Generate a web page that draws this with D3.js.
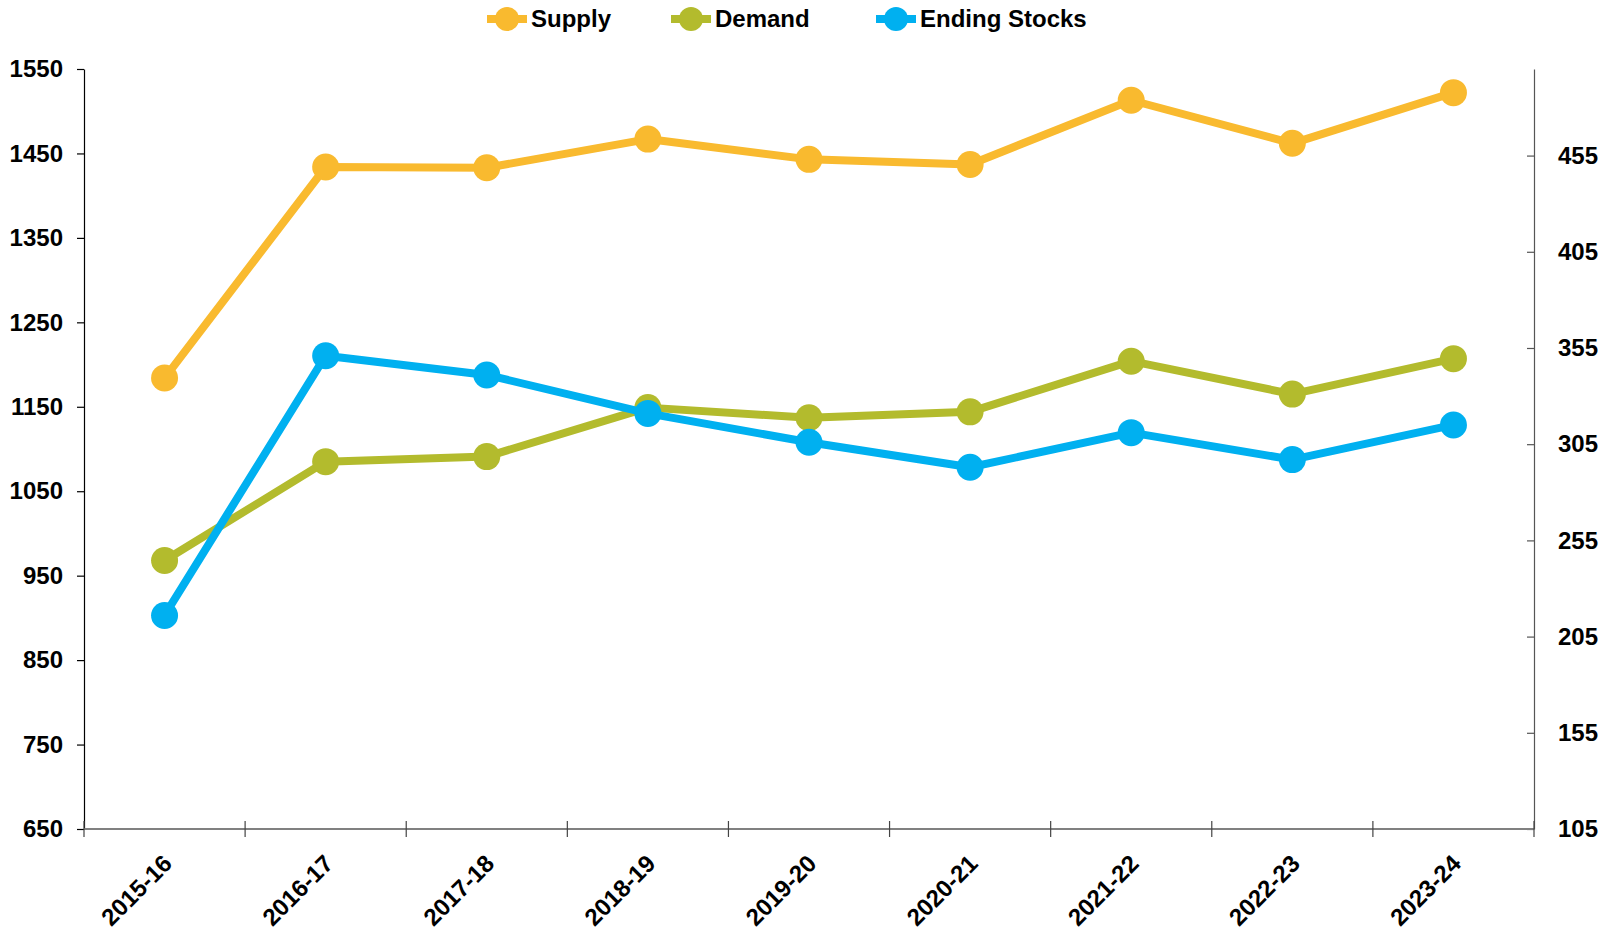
<!DOCTYPE html>
<html>
<head>
<meta charset="utf-8">
<script src="https://cdn.jsdelivr.net/npm/d3@7/dist/d3.min.js"></script>
<style>
  html, body { margin: 0; padding: 0; background: #fff; }
  svg { display: block; font-family: "Liberation Sans", Arial, sans-serif; font-weight: bold; }
</style>
</head>
<body>
<svg id="chart" width="1623" height="933"></svg>
<script>
// ---- data ----
const categories = ["2015-16","2016-17","2017-18","2018-19","2019-20","2020-21","2021-22","2022-23","2023-24"];
const supply = [1184, 1434, 1433, 1467, 1443, 1437, 1513, 1462, 1522];
const demand = [968, 1085, 1091, 1149, 1137, 1144, 1204, 1165, 1207];
const endingStocks = [216, 351, 341, 321, 306, 293, 311, 297, 315];
const leftTicks = [650, 750, 850, 950, 1050, 1150, 1250, 1350, 1450, 1550];
const rightTicks = [105, 155, 205, 255, 305, 355, 405, 455];
const seriesNames = ["Supply", "Demand", "Ending Stocks"];
const seriesColors = ["#F9BA2F", "#B3BB2D", "#00B0F0"];

(function () {
// ---- layout ----
const svg = d3.select("#chart");
const pLeft = 84, pRight = 1534, pTop = 69, pBottom = 829;

const x = d3.scaleBand().domain(categories).range([pLeft, pRight]).padding(0);
const yL = d3.scaleLinear().domain([650, 1550]).range([pBottom, pTop]);
const yR = d3.scaleLinear().domain([105, 500]).range([pBottom, pTop]);
const fmt = d3.format("d");

// Left axis
const gL = svg.append("g").attr("transform", `translate(${pLeft},0)`)
  .call(d3.axisLeft(yL).tickValues(leftTicks).tickFormat(fmt).tickSize(7).tickPadding(14).tickSizeOuter(0));
gL.select(".domain").attr("stroke", "#000").attr("stroke-width", 1.2);
gL.selectAll(".tick line").attr("stroke", "#000").attr("stroke-width", 1.2);
gL.selectAll(".tick text").attr("font-size", 24).attr("font-weight", "bold")
  .attr("font-family", "Liberation Sans, Arial, sans-serif").attr("fill", "#000");

// Right axis
const gR = svg.append("g").attr("transform", `translate(${pRight},0)`)
  .call(d3.axisRight(yR).tickValues(rightTicks).tickFormat(fmt).tickSize(-7).tickPadding(24).tickSizeOuter(0));
gR.select(".domain").attr("stroke", "#555").attr("stroke-width", 1.2);
gR.selectAll(".tick line").attr("stroke", "#555").attr("stroke-width", 1.2);
gR.selectAll(".tick text").attr("font-size", 24).attr("font-weight", "bold")
  .attr("font-family", "Liberation Sans, Arial, sans-serif").attr("fill", "#000");

// X axis
const gX = svg.append("g").attr("transform", `translate(0,${pBottom})`);
gX.append("line").attr("x1", pLeft).attr("x2", pRight).attr("y1", 0).attr("y2", 0)
  .attr("stroke", "#808080").attr("stroke-width", 2.2);
const xTickPos = categories.map(c => x(c)).concat([pRight]);
gX.selectAll("line.xt").data(xTickPos).enter().append("line").attr("class", "xt")
  .attr("x1", d => d).attr("x2", d => d).attr("y1", -8).attr("y2", 8)
  .attr("stroke", "#444").attr("stroke-width", 1.2);
gX.selectAll("text.xl").data(categories).enter().append("text").attr("class", "xl")
  .attr("transform", d => `translate(${x(d) + x.bandwidth() / 2 + 9},36) rotate(-45)`)
  .attr("text-anchor", "end")
  .attr("font-size", 24).attr("font-weight", "bold").attr("fill", "#000")
  .text(d => d);

// Series
const allSeries = [
  { name: seriesNames[0], values: supply, y: yL, color: seriesColors[0] },
  { name: seriesNames[1], values: demand, y: yL, color: seriesColors[1] },
  { name: seriesNames[2], values: endingStocks, y: yR, color: seriesColors[2] }
];
const cx = c => x(c) + x.bandwidth() / 2;

allSeries.forEach(s => {
  const line = d3.line().x((d, i) => cx(categories[i])).y(d => s.y(d));
  svg.append("path").datum(s.values).attr("d", line)
    .attr("fill", "none").attr("stroke", s.color).attr("stroke-width", 8)
    .attr("stroke-linejoin", "round");
  svg.selectAll(null).data(s.values).enter().append("circle")
    .attr("cx", (d, i) => cx(categories[i])).attr("cy", d => s.y(d))
    .attr("r", 13.5).attr("fill", s.color);
});

// Legend
const legendX = [507, 691, 896];
const legend = svg.append("g");
allSeries.forEach((s, i) => {
  const g = legend.append("g").attr("transform", `translate(${legendX[i]},19)`);
  g.append("line").attr("x1", -20).attr("x2", 20).attr("y1", 0).attr("y2", 0)
    .attr("stroke", s.color).attr("stroke-width", 8);
  g.append("circle").attr("r", 12).attr("fill", s.color);
  g.append("text").attr("x", 24).attr("y", 0).attr("dy", "0.35em")
    .attr("font-size", 24).attr("font-weight", "bold").attr("fill", "#000")
    .text(s.name);
});
})();
</script>
</body>
</html>
